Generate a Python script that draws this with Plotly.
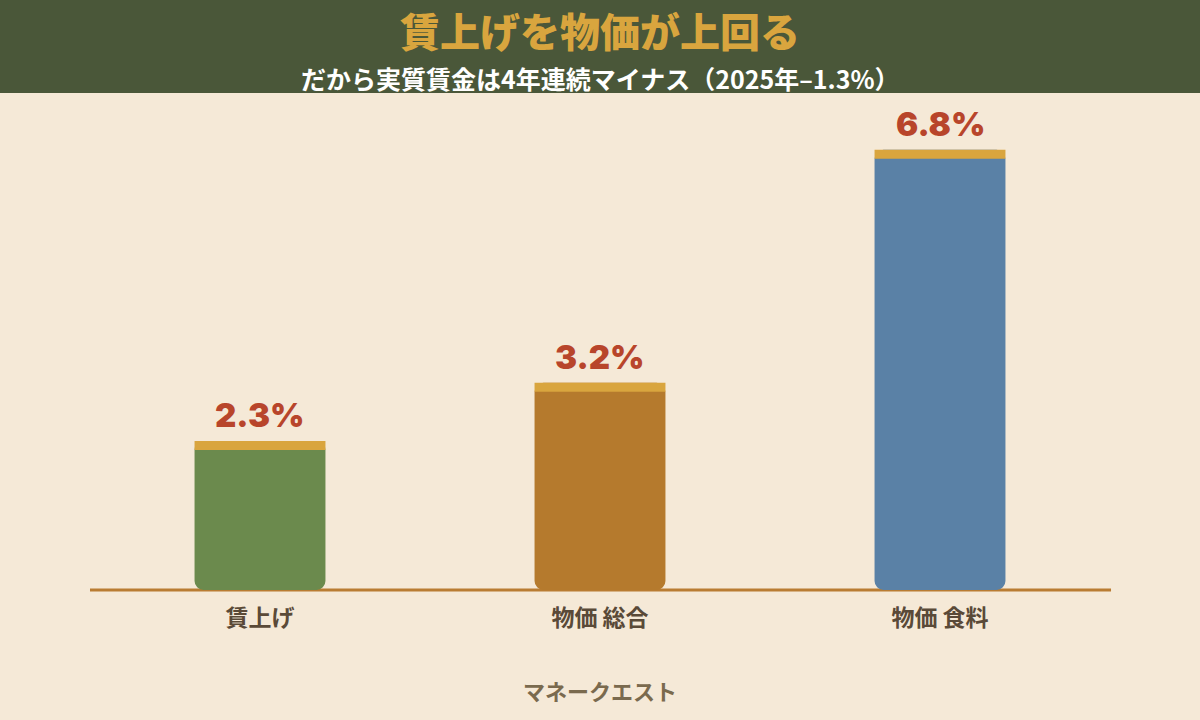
import plotly.graph_objects as go

categories = ["賃上げ", "物価 総合", "物価 食料"]
values = [2.3, 3.2, 6.8]
value_labels = ["2.3%", "3.2%", "6.8%"]
bar_colors = ["#6b8a4d", "#b57a2d", "#5a81a6"]

title_text = "賃上げを物価が上回る"
subtitle_text = "だから実質賃金は4年連続マイナス（2025年–1.3%）"
source_text = "マネークエスト"

W, H = 1200, 720
ML, MR, MT, MB = 90, 90, 100, 130
Y_MAX = 7.57
plot_h = H - MT - MB
px_per_unit = plot_h / Y_MAX
CAP_PX = 9
cap = CAP_PX / px_per_unit

CAP_COLOR = "#d9a53e"
BG = "#f5e9d7"
HEADER = "#4a5739"
JP = "Noto Sans CJK JP"

fig = go.Figure()
# main bar body drawn downward from the value to zero; its top is hidden under the cap
fig.add_trace(go.Bar(
    x=categories,
    y=[-v for v in values],
    base=values,
    marker=dict(color=bar_colors, cornerradius=9, line=dict(width=0)),
    width=0.385,
    hoverinfo="skip",
))
fig.add_trace(go.Bar(
    x=categories,
    y=[cap for v in values],
    base=[v - cap for v in values],
    marker=dict(color=CAP_COLOR, line=dict(width=0)),
    width=0.385,
    hoverinfo="skip",
))

for c, v, t in zip(categories, values, value_labels):
    fig.add_annotation(x=c, y=v, text=t, showarrow=False, yanchor="bottom",
                       yshift=4, font=dict(family="Inter, Liberation Sans", size=33,
                                           color="#b8452b", weight=900))

ph = plot_h
top_paper = 1 + MT / ph
fig.add_shape(type="rect", xref="paper", yref="paper",
              x0=-ML / (W - ML - MR), x1=1 + MR / (W - ML - MR),
              y0=1 + (MT - 93) / ph, y1=top_paper + 0.01,
              fillcolor=HEADER, line=dict(width=0), layer="below")
fig.add_shape(type="line", xref="paper", yref="paper", x0=0, x1=1.001, y0=0, y1=0,
              line=dict(color="#b97c32", width=3), layer="below")

fig.add_annotation(xref="paper", yref="paper", x=0.5, y=1 + (MT - 30.5) / ph,
                   text=title_text, showarrow=False, yanchor="middle",
                   font=dict(family=JP, size=40, color="#d9a53e", weight=900))
fig.add_annotation(xref="paper", yref="paper", x=0.5, y=1 + (MT - 78) / ph,
                   text=subtitle_text, showarrow=False, yanchor="middle",
                   font=dict(family=JP, size=25, color="#ffffff", weight=700))
fig.add_annotation(xref="paper", yref="paper", x=0.5, y=-(690 - (H - MB)) / ph,
                   text=source_text, showarrow=False, yanchor="middle",
                   font=dict(family=JP, size=22, color="#7a6a4e", weight=700))

fig.update_layout(
    width=W, height=H,
    margin=dict(l=ML, r=MR, t=MT, b=MB),
    paper_bgcolor=BG, plot_bgcolor=BG,
    barmode="overlay", showlegend=False,
    xaxis=dict(showgrid=False, zeroline=False, showline=False, ticks="",
               tickfont=dict(family=JP, size=23, color="#5a4a38", weight=700),
               ticklabelstandoff=12, fixedrange=True),
    yaxis=dict(range=[0, Y_MAX], visible=False, showgrid=False, zeroline=False,
               fixedrange=True),
)

fig.write_html("out.html", config={"displayModeBar": False})
